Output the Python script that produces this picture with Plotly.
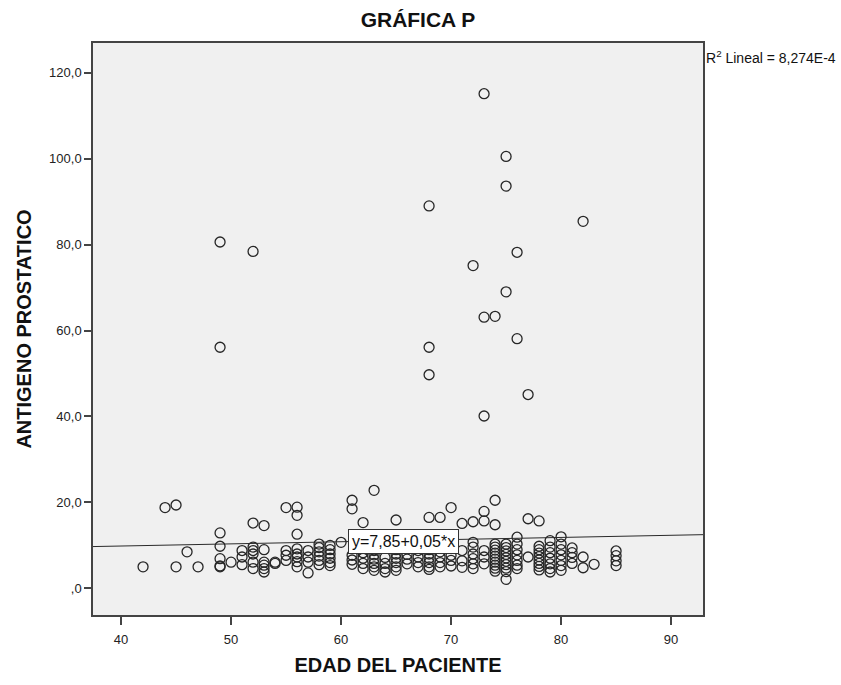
import plotly.graph_objects as go

# ---- data (edad, antigeno) ----
edad = (
    [42] + [44] + [45, 45] + [46] + [47]
    + [49] * 7 + [50] + [51] * 3 + [52] * 7 + [53] * 6 + [54] * 2
    + [55] * 4 + [56] * 8 + [57] * 4 + [58] * 6 + [59] * 6 + [60]
    + [61] * 5 + [62] * 5 + [63] * 7 + [64] * 4 + [65] * 7 + [66] * 3
    + [67] * 4 + [68] * 10 + [69] * 5 + [70] * 4 + [71] * 4 + [72] * 8
    + [73] * 8 + [74] * 13 + [75] * 13 + [76] * 9 + [77] * 3 + [78] * 9
    + [79] * 7 + [80] * 7 + [81] * 4 + [82] * 3 + [83] + [85] * 4
)
antigeno = (
    [5.0] + [18.8] + [19.4, 5.0] + [8.5] + [5.0]
    + [80.6, 56.1, 12.9, 9.8, 6.9, 5.2, 5.0]
    + [6.1]
    + [8.8, 7.3, 5.5]
    + [78.4, 15.2, 9.6, 8.8, 8.0, 6.1, 4.6]
    + [14.6, 9.0, 6.1, 5.4, 4.6, 3.8]
    + [6.1, 5.8]
    + [18.8, 8.8, 7.7, 6.5]
    + [18.9, 17.0, 12.6, 9.2, 8.0, 7.3, 6.2, 5.0]
    + [8.8, 7.3, 6.1, 3.6]
    + [10.3, 9.5, 8.5, 7.5, 6.5, 5.5]
    + [10.0, 9.0, 8.0, 7.0, 6.0, 5.3]
    + [10.7]
    + [20.5, 18.5, 7.7, 6.6, 5.6]
    + [15.3, 8.3, 7.0, 5.8, 4.6]
    + [22.8, 8.8, 7.8, 6.8, 5.8, 5.0, 4.2]
    + [7.2, 5.8, 4.6, 3.8]
    + [15.9, 9.0, 8.0, 7.0, 6.0, 5.0, 4.2]
    + [7.9, 6.8, 5.7]
    + [8.8, 7.3, 6.0, 5.0]
    + [89.0, 56.1, 49.7, 16.5, 9.0, 8.0, 7.0, 6.0, 5.0, 4.4]
    + [16.5, 8.5, 7.3, 6.0, 5.0]
    + [18.8, 7.7, 6.5, 5.2]
    + [15.1, 8.8, 6.4, 4.9]
    + [75.1, 15.5, 10.7, 9.6, 8.0, 6.9, 5.7, 4.6]
    + [115.1, 63.1, 40.1, 17.9, 15.7, 8.8, 7.3, 5.7]
    + [63.3, 20.5, 14.8, 10.3, 9.6, 8.9, 8.2, 7.5, 6.8, 6.1, 5.4, 4.7, 4.0]
    + [100.5, 93.6, 69.0, 10.3, 9.5, 8.7, 7.9, 7.1, 6.3, 5.5, 4.7, 3.9, 2.1]
    + [78.2, 58.1, 11.9, 10.3, 9.0, 7.8, 6.5, 5.4, 4.6]
    + [45.1, 16.2, 7.3]
    + [15.7, 9.8, 9.0, 8.2, 7.4, 6.6, 5.8, 5.1, 4.3]
    + [11.1, 9.6, 8.3, 7.0, 5.7, 4.6, 3.8]
    + [12.0, 10.3, 9.0, 7.8, 6.5, 5.3, 4.2]
    + [9.4, 8.3, 7.2, 5.8]
    + [85.4, 7.3, 4.8]
    + [5.6]
    + [8.7, 7.6, 6.4, 5.3]
)

# regression fit shown in the chart
intercepto = 7.85
pendiente = 0.05
r2_texto = "R<sup>2</sup> Lineal = 8,274E-4"
ecuacion_texto = "y=7,85+0,05*x"

x_ticks = [40, 50, 60, 70, 80, 90]
x_ticktext = ["40", "50", "60", "70", "80", "90"]
y_ticks = [0, 20, 40, 60, 80, 100, 120]
y_ticktext = [",0", "20,0", "40,0", "60,0", "80,0", "100,0", "120,0"]

x_range = [37.45, 92.9]
y_range = [-6.2, 126.9]

FONT = "Liberation Sans, Arial, sans-serif"

fig = go.Figure()

fig.add_trace(go.Scatter(
    x=edad, y=antigeno, mode="markers",
    marker=dict(symbol="circle-open", size=10, color="#262626",
                line=dict(width=1.3)),
    showlegend=False, hoverinfo="x+y",
))

line_x = x_range
line_y = [intercepto + pendiente * v for v in line_x]
fig.add_trace(go.Scatter(
    x=line_x, y=line_y, mode="lines",
    line=dict(color="#2a2a2a", width=1),
    showlegend=False, hoverinfo="skip",
))

fig.add_annotation(
    x=65.7, y=11.0, xref="x", yref="y", text=ecuacion_texto,
    showarrow=False, bgcolor="white", bordercolor="#333333", borderwidth=1,
    borderpad=3, font=dict(family=FONT, size=16, color="#111111"),
)
fig.add_annotation(
    x=1.0, y=1 - 14 / 579, xref="paper", yref="paper", text=r2_texto,
    showarrow=False, xanchor="left", yanchor="middle", xshift=1,
    font=dict(family=FONT, size=14, color="#111111"),
)

fig.update_layout(
    width=841, height=685,
    margin=dict(l=93, r=138, t=43, b=63),
    paper_bgcolor="white", plot_bgcolor="#f0f0f0",
    font=dict(family=FONT, color="#222222"),
    title=dict(text="<b>GRÁFICA P</b>", x=(418 - 93) / 610, xref="paper",
               xanchor="center", y=1 - 20 / 685, yref="container",
               yanchor="middle", font=dict(family=FONT, size=21, color="#111111")),
    xaxis=dict(
        range=x_range, tickvals=x_ticks, ticktext=x_ticktext,
        showgrid=False, zeroline=False, showline=True, linecolor="#444444",
        linewidth=1.5, mirror=True, ticks="outside", ticklen=8,
        tickcolor="#444444", tickwidth=1.5, ticklabelstandoff=4,
        tickfont=dict(family=FONT, size=13, color="#222222"),
        title=dict(text="<b>EDAD DEL PACIENTE</b>", standoff=12,
                   font=dict(family=FONT, size=20, color="#111111")),
    ),
    yaxis=dict(
        range=y_range, tickvals=y_ticks, ticktext=y_ticktext,
        showgrid=False, zeroline=False, showline=True, linecolor="#444444",
        linewidth=1.5, mirror=True, ticks="outside", ticklen=7,
        tickcolor="#444444", tickwidth=1.5,
        tickfont=dict(family=FONT, size=13, color="#222222"),
        title=dict(text="<b>ANTIGENO PROSTATICO</b>", standoff=12,
                   font=dict(family=FONT, size=20, color="#111111")),
    ),
)

fig.write_html("out.html")
